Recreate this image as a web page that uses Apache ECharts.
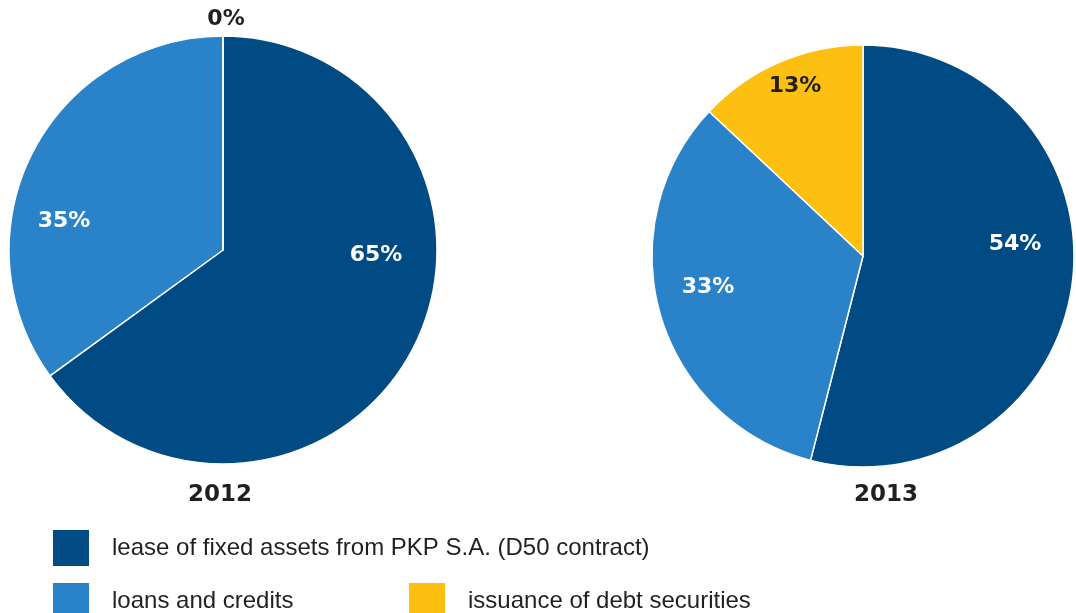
<!DOCTYPE html>
<html>
<head>
    <meta charset="UTF-8">
    <title>Financing structure 2012 / 2013</title>
    <script src="https://cdn.jsdelivr.net/npm/echarts@6/dist/echarts.min.js"></script>
    <style>
        html, body { margin: 0; padding: 0; background: #fff; }
    </style>
</head>
<body>
    <div id="main" style="width: 1076px;height:613px;"></div>
    <script type="text/javascript">
        // data
        var categories = ['lease of fixed assets from PKP S.A. (D50 contract)', 'loans and credits', 'issuance of debt securities'];
        var years = ['2012', '2013'];
        var values2012 = [65, 35, 0];
        var values2013 = [54, 33, 13];

        // styles
        var colors = ['#004b84', '#2a83c8', '#fdc010'];
        var labelColors = ['#ffffff', '#ffffff', '#231f20'];
        var textColor = '#231f20';
        var centers = [[223, 250], [863, 256]];
        var radii = [214, 211];
        // label offsets from the pie centre (the original places them by hand)
        var labelOffsets = [
            [[153, 5], [-159, -29], [3, -231]],
            [[152, -12], [-155, 31], [-68, -170]]
        ];

        function makeData(values) {
            return values.map(function (v, i) {
                return {
                    name: categories[i],
                    value: v,
                    label: { color: labelColors[i] }
                };
            });
        }

        function makePie(idx, values) {
            return {
                type: 'pie',
                name: years[idx],
                center: centers[idx],
                radius: radii[idx],
                startAngle: 90,
                clockwise: true,
                silent: true,
                avoidLabelOverlap: false,
                itemStyle: { borderColor: '#ffffff', borderWidth: 1.5 },
                label: {
                    show: true,
                    position: 'outside',
                    formatter: '{c}%',
                    fontFamily: 'DejaVu Sans',
                    fontWeight: 'bold',
                    fontSize: 22
                },
                labelLine: { show: false },
                labelLayout: function (p) {
                    var o = labelOffsets[idx][p.dataIndex];
                    return {
                        x: centers[idx][0] + o[0],
                        y: centers[idx][1] + o[1],
                        align: 'center',
                        verticalAlign: 'middle'
                    };
                },
                data: makeData(values)
            };
        }

        function makeLegend(i, left, top) {
            return {
                data: [categories[i]],
                left: left,
                top: top,
                padding: 0,
                icon: 'rect',
                itemWidth: 38,
                itemHeight: 38,
                selectedMode: false,
                textStyle: {
                    color: textColor,
                    fontFamily: 'Liberation Sans',
                    fontSize: 24,
                    padding: [0, 0, 0, 17]
                }
            };
        }

        var myChart = echarts.init(document.getElementById('main'));

        var option = {
            animation: false,
            color: colors,
            title: [
                {
                    text: years[0], left: 220, top: 484, padding: 0, textAlign: 'center',
                    textStyle: { color: textColor, fontFamily: 'DejaVu Sans', fontWeight: 'bold', fontSize: 23 }
                },
                {
                    text: years[1], left: 886, top: 484, padding: 0, textAlign: 'center',
                    textStyle: { color: textColor, fontFamily: 'DejaVu Sans', fontWeight: 'bold', fontSize: 23 }
                }
            ],
            legend: [
                makeLegend(0, 51, 528),
                makeLegend(1, 51, 581),
                makeLegend(2, 407, 581)
            ],
            series: [
                makePie(0, values2012),
                makePie(1, values2013)
            ]
        };

        myChart.setOption(option);
    </script>
</body>
</html>
